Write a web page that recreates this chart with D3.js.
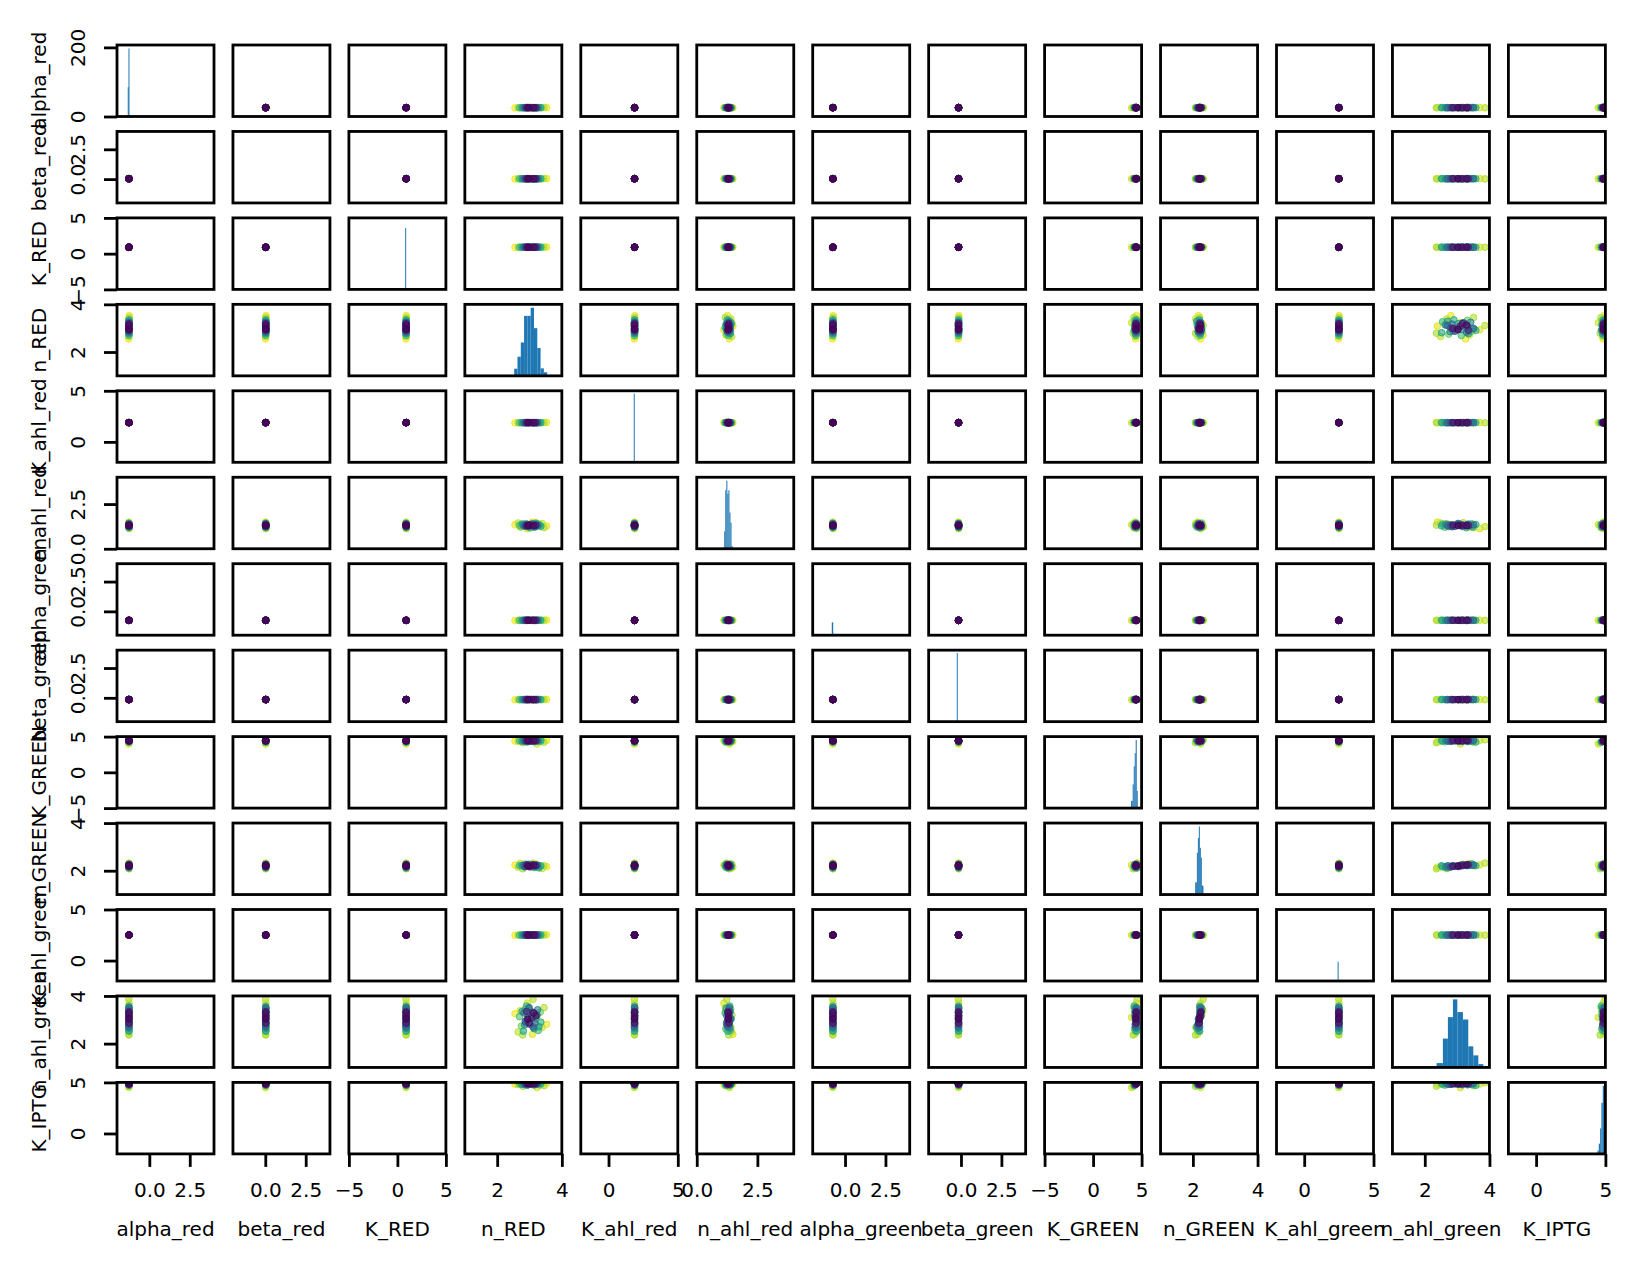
<!DOCTYPE html>
<html><head><meta charset="utf-8">
<script src="https://cdn.jsdelivr.net/npm/d3@7"></script>
<style>body{margin:0;background:#fff} svg{display:block}</style>
</head><body><svg id="chart" width="1641" height="1270"></svg>
<script>
const variables = ["alpha_red","beta_red","K_RED","n_RED","K_ahl_red","n_ahl_red","alpha_green","beta_green","K_GREEN","n_GREEN","K_ahl_green","n_ahl_green","K_IPTG"];
const domainLo = [-2,-2,-5,1,-2,0,-2,-2,-5,1,-2,1,-2];
const domainHi = [4,4,5,4,5,4,4,4,5,4,5,4,5];
const tickValues = [[0,2.5],[0,2.5],[-5,0,5],[2,4],[0,5],[0,2.5],[0,2.5],[0,2.5],[-5,0,5],[2,4],[0,5],[2,4],[0,5]];
const tickLabels = [["0.0","2.5"],["0.0","2.5"],["\u22125","0","5"],["2","4"],["0","5"],["0.0","2.5"],["0.0","2.5"],["0.0","2.5"],["\u22125","0","5"],["2","4"],["0","5"],["2","4"],["0","5"]];
const countTicks = [0,200];
const countLabels = ["0","200"];

// colour value of each posterior sample (viridis); yellow rim drawn first, purple last
const colorValues = [
  0.98,0.97,0.95,0.94,0.93,0.92,0.91,0.9,0.89,0.88,0.87,0.86,
  0.78,0.76,0.74,0.72,0.7,0.68,0.66,0.64,0.62,0.6,0.58,0.57,
  0.56,0.55,0.5,0.48,0.46,0.45,0.43,0.42,0.4,0.38,0.36,0.34,
  0.32,0.3,0.28,0.26,0.24,0.22,0.12,0.1,0.07,0.05,0.02,0.0];

const s_alpha_red = [
  -1.28,-1.24,-1.27,-1.25,-1.27,-1.25,-1.26,-1.26,-1.27,-1.25,-1.26,-1.26,
  -1.27,-1.25,-1.26,-1.26,-1.27,-1.25,-1.26,-1.26,-1.26,-1.26,-1.27,-1.25,
  -1.26,-1.26,-1.26,-1.26,-1.27,-1.25,-1.26,-1.26,-1.26,-1.26,-1.26,-1.26,
  -1.26,-1.26,-1.26,-1.26,-1.26,-1.26,-1.26,-1.26,-1.26,-1.26,-1.26,-1.26];
const s_beta_red = [
  0.01,0.05,0.02,0.04,0.02,0.04,0.03,0.03,0.02,0.04,0.03,0.03,
  0.02,0.04,0.03,0.03,0.02,0.04,0.03,0.03,0.03,0.03,0.02,0.04,
  0.03,0.03,0.03,0.03,0.02,0.04,0.03,0.03,0.03,0.03,0.03,0.03,
  0.03,0.03,0.03,0.03,0.03,0.03,0.03,0.03,0.03,0.03,0.03,0.03];
const s_K_RED = [
  0.88,0.92,0.89,0.91,0.89,0.91,0.9,0.9,0.89,0.91,0.9,0.9,
  0.89,0.91,0.9,0.9,0.89,0.91,0.9,0.9,0.9,0.9,0.89,0.91,
  0.9,0.9,0.9,0.9,0.89,0.91,0.9,0.9,0.9,0.9,0.9,0.9,
  0.9,0.9,0.9,0.9,0.9,0.9,0.9,0.9,0.9,0.9,0.9,0.9];
const s_n_RED = [
  2.55,3.53,3.09,2.93,3.23,2.71,3.39,2.65,3.11,3.45,2.79,3.21,
  2.75,3.33,2.87,3.15,2.69,3.27,3.03,2.91,3.35,2.81,3.19,2.97,
  3.29,2.77,3.21,2.85,3.13,2.95,3.25,2.89,3.07,2.83,3.17,2.99,
  3.11,2.93,3.23,2.87,3.09,3.01,3.07,2.91,3.19,2.99,3.13,2.95];
const s_K_ahl_red = [
  1.86,1.90,1.87,1.89,1.87,1.89,1.88,1.88,1.87,1.89,1.88,1.88,
  1.87,1.89,1.88,1.88,1.87,1.89,1.88,1.88,1.88,1.88,1.87,1.89,
  1.88,1.88,1.88,1.88,1.87,1.89,1.88,1.88,1.88,1.88,1.88,1.88,
  1.88,1.88,1.88,1.88,1.88,1.88,1.88,1.88,1.88,1.88,1.88,1.88];
const s_n_ahl_red = [
  1.34,1.27,1.49,1.12,1.35,1.21,1.41,1.44,1.24,1.18,1.32,1.45,
  1.23,1.33,1.40,1.20,1.31,1.38,1.17,1.36,1.25,1.28,1.42,1.22,
  1.30,1.38,1.26,1.35,1.37,1.24,1.32,1.29,1.39,1.33,1.23,1.34,
  1.28,1.37,1.31,1.26,1.35,1.27,1.31,1.29,1.32,1.33,1.29,1.30];
const s_alpha_green = [
  -0.77,-0.73,-0.76,-0.74,-0.76,-0.74,-0.75,-0.75,-0.76,-0.74,-0.75,-0.75,
  -0.76,-0.74,-0.75,-0.75,-0.76,-0.74,-0.75,-0.75,-0.75,-0.75,-0.76,-0.74,
  -0.75,-0.75,-0.75,-0.75,-0.76,-0.74,-0.75,-0.75,-0.75,-0.75,-0.75,-0.75,
  -0.75,-0.75,-0.75,-0.75,-0.75,-0.75,-0.75,-0.75,-0.75,-0.75,-0.75,-0.75];
const s_beta_green = [
  -0.17,-0.13,-0.16,-0.14,-0.16,-0.14,-0.15,-0.15,-0.16,-0.14,-0.15,-0.15,
  -0.16,-0.14,-0.15,-0.15,-0.16,-0.14,-0.15,-0.15,-0.15,-0.15,-0.16,-0.14,
  -0.15,-0.15,-0.15,-0.15,-0.16,-0.14,-0.15,-0.15,-0.15,-0.15,-0.15,-0.15,
  -0.15,-0.15,-0.15,-0.15,-0.15,-0.15,-0.15,-0.15,-0.15,-0.15,-0.15,-0.15];
const s_K_GREEN = [
  4.38,4.47,4.31,4.45,3.97,4.49,4.44,4.34,4.55,4.21,4.14,4.46,
  4.44,4.29,4.48,4.27,4.43,4.36,4.50,4.24,4.45,4.48,4.39,4.32,
  4.52,4.35,4.44,4.38,4.47,4.31,4.42,4.46,4.34,4.44,4.41,4.48,
  4.36,4.43,4.45,4.39,4.44,4.35,4.44,4.43,4.42,4.45,4.44,4.43];
const s_n_GREEN = [
  2.24,2.17,2.15,2.24,2.24,2.31,2.09,2.15,2.32,2.21,2.08,2.27,
  2.19,2.21,2.28,2.13,2.22,2.18,2.22,2.21,2.20,2.21,2.17,2.27,
  2.12,2.23,2.24,2.16,2.17,2.25,2.22,2.20,2.18,2.23,2.20,2.23,
  2.21,2.20,2.23,2.18,2.25,2.16,2.22,2.25,2.21,2.19,2.24,2.20];
const s_K_ahl_green = [
  2.48,2.52,2.49,2.51,2.49,2.51,2.5,2.5,2.49,2.51,2.5,2.5,
  2.49,2.51,2.5,2.5,2.49,2.51,2.5,2.5,2.5,2.5,2.49,2.51,
  2.5,2.5,2.5,2.5,2.49,2.51,2.5,2.5,2.5,2.5,2.5,2.5,
  2.5,2.5,2.5,2.5,2.5,2.5,2.5,2.5,2.5,2.5,2.5,2.5];
const s_n_ahl_green = [
  3.26,2.81,2.39,3.70,3.10,3.38,2.68,2.49,3.86,3.51,2.36,3.19,
  2.74,3.32,3.45,2.62,3.13,2.55,3.29,3.58,2.90,2.52,3.03,3.48,
  2.71,3.35,3.22,2.78,2.65,3.16,3.42,2.87,3.06,3.29,2.84,3.51,
  2.71,3.00,3.19,2.94,3.32,2.81,3.10,3.35,3.16,2.87,3.29,3.03];
const s_K_IPTG = [
  4.83,4.90,4.84,4.84,4.49,4.92,4.88,4.80,4.97,4.68,4.62,4.93,
  4.88,4.75,4.92,4.73,4.87,4.81,4.94,4.71,4.89,4.93,4.84,4.78,
  4.96,4.80,4.88,4.83,4.91,4.77,4.86,4.90,4.80,4.88,4.86,4.92,
  4.81,4.87,4.89,4.84,4.88,4.81,4.88,4.87,4.86,4.89,4.88,4.87];

// diagonal histograms: bin edges and counts
const h_alpha_red_edges = [-1.335,-1.29,-1.25];           const h_alpha_red_counts = [85,197];
const h_beta_red_edges = [];                               const h_beta_red_counts = [];
const h_K_RED_edges = [0.80,0.90];                         const h_K_RED_counts = [86];
const h_n_RED_edges = [2.526,2.628,2.73,2.832,2.934,3.036,3.138,3.24,3.342,3.444,3.546];
const h_n_RED_counts = [22,59,103,185,185,210,147,86,23,11];
const h_K_ahl_red_edges = [1.82,1.89];                     const h_K_ahl_red_counts = [96];
const h_n_ahl_red_edges = [1.09,1.133,1.176,1.219,1.262,1.305,1.348,1.391,1.434,1.477];
const h_n_ahl_red_counts = [4,51,171,199,161,171,106,76,8];
const h_alpha_green_edges = [-0.82,-0.73];                 const h_alpha_green_counts = [18];
const h_beta_green_edges = [-0.26,-0.2];                   const h_beta_green_counts = [96];
const h_K_GREEN_edges = [3.91,4.08,4.19,4.29,4.39,4.50,4.57];
const h_K_GREEN_counts = [22,72,127,167,207,52];
const h_n_GREEN_edges = [2.071,2.123,2.154,2.184,2.215,2.246,2.277,2.326];
const h_n_GREEN_counts = [37,127,172,207,142,112,27];
const h_K_ahl_green_edges = [2.41,2.48];                   const h_K_ahl_green_counts = [27];
const h_n_ahl_green_edges = [2.365,2.56,2.715,2.87,3.006,3.18,3.345,3.5,3.656,3.81,3.966];
const h_n_ahl_green_counts = [13,86,150,203,165,143,63,36,10,3];
const h_K_IPTG_edges = [4.33,4.43,4.52,4.62,4.71,4.81,4.90];
const h_K_IPTG_counts = [3,10,30,75,150,200];
const histYMax = [206.9,null,100,null,100,null,100,100,null,null,100,null,null];

const samples = [s_alpha_red,s_beta_red,s_K_RED,s_n_RED,s_K_ahl_red,s_n_ahl_red,s_alpha_green,s_beta_green,s_K_GREEN,s_n_GREEN,s_K_ahl_green,s_n_ahl_green,s_K_IPTG];
const histEdges = [h_alpha_red_edges,h_beta_red_edges,h_K_RED_edges,h_n_RED_edges,h_K_ahl_red_edges,h_n_ahl_red_edges,h_alpha_green_edges,h_beta_green_edges,h_K_GREEN_edges,h_n_GREEN_edges,h_K_ahl_green_edges,h_n_ahl_green_edges,h_K_IPTG_edges];
const histCounts = [h_alpha_red_counts,h_beta_red_counts,h_K_RED_counts,h_n_RED_counts,h_K_ahl_red_counts,h_n_ahl_red_counts,h_alpha_green_counts,h_beta_green_counts,h_K_GREEN_counts,h_n_GREEN_counts,h_K_ahl_green_counts,h_n_ahl_green_counts,h_K_IPTG_counts];

// layout
const left0 = 117, pitchX = 115.95, W = 97;
const top0 = 45, pitchY = 86.45, H = 71.5;
const FONT = "DejaVu Sans, sans-serif", FS = 20;
const LW = 2.8, TICK = 13;

const svg = d3.select("#chart");
const defs = svg.append("defs");
const n = variables.length;
const xs = variables.map((v, j) => d3.scaleLinear().domain([domainLo[j], domainHi[j]]).range([left0 + j * pitchX, left0 + j * pitchX + W]));
const ys = variables.map((v, i) => d3.scaleLinear().domain([domainLo[i], domainHi[i]]).range([top0 + i * pitchY + H, top0 + i * pitchY]));
const histY = variables.map((v, i) => {
  const mx = histYMax[i] != null ? histYMax[i] : (d3.max(histCounts[i]) || 1) * 1.05;
  return d3.scaleLinear().domain([0, mx]).range([top0 + i * pitchY + H, top0 + i * pitchY]);
});
const order = d3.range(colorValues.length).sort((a, b) => colorValues[b] - colorValues[a]);

for (let i = 0; i < n; i++) {
  for (let j = 0; j < n; j++) {
    const x0 = left0 + j * pitchX, y0 = top0 + i * pitchY;
    const cid = `clip_${i}_${j}`;
    defs.append("clipPath").attr("id", cid).append("rect").attr("x", x0).attr("y", y0).attr("width", W).attr("height", H);
    const g = svg.append("g");
    const body = g.append("g").attr("clip-path", `url(#${cid})`);
    if (i === j) {
      const edges = histEdges[i], counts = histCounts[i];
      const bins = counts.map((c, b) => ({c, a: edges[b], e: edges[b + 1]}));
      body.selectAll("rect").data(bins).join("rect")
        .attr("x", d => xs[j](d.a))
        .attr("width", d => Math.max(1, xs[j](d.e) - xs[j](d.a)))
        .attr("y", d => histY[i](d.c))
        .attr("height", d => histY[i](0) - histY[i](d.c))
        .attr("fill", "#1f77b4");
    } else {
      body.selectAll("circle").data(order).join("circle")
        .attr("cx", k => xs[j](samples[j][k]))
        .attr("cy", k => ys[i](samples[i][k]))
        .attr("r", 3.3)
        .attr("fill", k => d3.interpolateViridis(colorValues[k]))
        .attr("fill-opacity", 0.6)
        .attr("stroke", k => d3.interpolateViridis(colorValues[k]))
        .attr("stroke-opacity", 0.85)
        .attr("stroke-width", 1);
    }
    g.append("rect").attr("x", x0).attr("y", y0).attr("width", W).attr("height", H)
      .attr("fill", "none").attr("stroke", "#000").attr("stroke-width", LW);
  }
}

function styleAxis(ax) {
  ax.select(".domain").remove();
  ax.selectAll("line").attr("stroke", "#000").attr("stroke-width", LW);
  ax.selectAll("text").attr("fill", "#000").style("font-family", FONT).style("font-size", FS + "px");
}

// bottom axes
const bottomY = top0 + (n - 1) * pitchY + H;
for (let j = 0; j < n; j++) {
  const ax = svg.append("g").attr("transform", `translate(0,${bottomY})`)
    .call(d3.axisBottom(xs[j]).tickValues(tickValues[j]).tickFormat((d, k) => tickLabels[j][k]).tickSize(TICK).tickPadding(16));
  styleAxis(ax);
  svg.append("text").attr("x", left0 + j * pitchX + W / 2).attr("y", 1236)
    .attr("text-anchor", "middle").style("font-family", FONT).style("font-size", FS + "px").attr("fill", "#000")
    .text(variables[j]);
}

// left axes
for (let i = 0; i < n; i++) {
  const scale = i === 0 ? histY[0] : ys[i];
  const tv = i === 0 ? countTicks : tickValues[i];
  const tl = i === 0 ? countLabels : tickLabels[i];
  const ax = svg.append("g").attr("transform", `translate(${left0},0)`)
    .call(d3.axisLeft(scale).tickValues(tv).tickFormat((d, k) => tl[k]).tickSize(TICK));
  styleAxis(ax);
  ax.selectAll("text").attr("x", 0).attr("y", 0).attr("dy", null)
    .attr("text-anchor", "middle").attr("transform", "translate(-32,0) rotate(-90)");
  svg.append("text")
    .attr("transform", `translate(45.5,${top0 + i * pitchY + H / 2}) rotate(-90)`)
    .attr("text-anchor", "middle").style("font-family", FONT).style("font-size", FS + "px").attr("fill", "#000")
    .text(variables[i]);
}
</script>
</body></html>
